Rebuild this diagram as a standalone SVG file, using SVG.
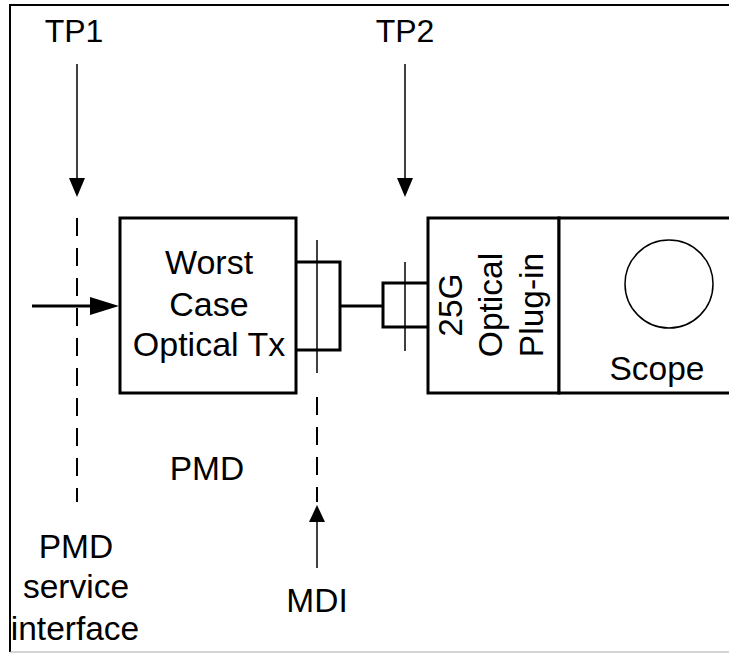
<svg xmlns="http://www.w3.org/2000/svg" width="729" height="654" viewBox="0 0 729 654">
<defs>
<style>
text{font-family:"Liberation Sans",Arial,sans-serif;font-size:33.5px;fill:#000;text-anchor:middle}
.tp{font-size:32px}
.box{fill:#fff;stroke:#000;stroke-width:3}
.thick{stroke:#000;stroke-width:3;fill:none}
.thin{stroke:#000;stroke-width:1.5;fill:none}
.dash{stroke:#000;stroke-width:2;fill:none;stroke-dasharray:18 12}
</style>
</defs>
<rect width="729" height="654" fill="#fff"/>
<g id="frame">
<line x1="10" y1="4" x2="10" y2="652" stroke="#000" stroke-width="2"/>
<line x1="9" y1="5" x2="729" y2="5" stroke="#000" stroke-width="2"/>
<line x1="10" y1="652" x2="729" y2="652" stroke="#aaa" stroke-width="1"/>
</g>
<g id="connectors">
<line x1="77" y1="64" x2="77" y2="178" class="thin"/>
<path d="M69,178 L85,178 L77,197 Z" fill="#000"/>
<line x1="405" y1="64" x2="405" y2="178" class="thin"/>
<path d="M397,178 L413,178 L405,197 Z" fill="#000"/>
<line x1="77" y1="218" x2="77" y2="502" class="dash"/>
<line x1="317" y1="397" x2="317" y2="502" class="dash"/>
<line x1="317" y1="568" x2="317" y2="522" class="thin"/>
<path d="M309,522 L325,522 L317,505 Z" fill="#000"/>
<line x1="32" y1="306" x2="92" y2="306" class="thick"/>
<path d="M90,297 L119,306 L90,315 Z" fill="#000"/>
<polyline points="296,262 340,262 340,350 296,350" class="thick"/>
<line x1="340" y1="306" x2="383" y2="306" class="thick"/>
<polyline points="428,283 383,283 383,327 428,327" class="thick"/>
<line x1="317" y1="240" x2="317" y2="373" class="thin"/>
<line x1="405" y1="262" x2="405" y2="351" class="thin"/>
</g>
<g id="tx">
<rect x="120" y="218" width="176" height="175" class="box"/>
<text x="209" y="274" style="font-size:34px">Worst</text>
<text x="209" y="316" style="font-size:34px">Case</text>
<text x="209" y="356" style="font-size:34px">Optical Tx</text>
</g>
<g id="plugin">
<rect x="428" y="218" width="131" height="175" class="box"/>
<text transform="translate(462,305) rotate(-90)">25G</text>
<text transform="translate(502,305) rotate(-90)">Optical</text>
<text transform="translate(543,305) rotate(-90)">Plug-in</text>
</g>
<g id="scope">
<rect x="559" y="218" width="175" height="175" class="box"/>
<circle cx="669" cy="284" r="44" fill="none" stroke="#000" stroke-width="1.5"/>
<text x="657" y="380">Scope</text>
</g>
<g id="labels">
<text class="tp" x="74" y="42">TP1</text>
<text class="tp" x="405" y="42">TP2</text>
<text x="207" y="480">PMD</text>
<text x="76" y="558">PMD</text>
<text x="76" y="598">service</text>
<text x="75" y="640">interface</text>
<text x="317" y="612">MDI</text>
</g>
</svg>
